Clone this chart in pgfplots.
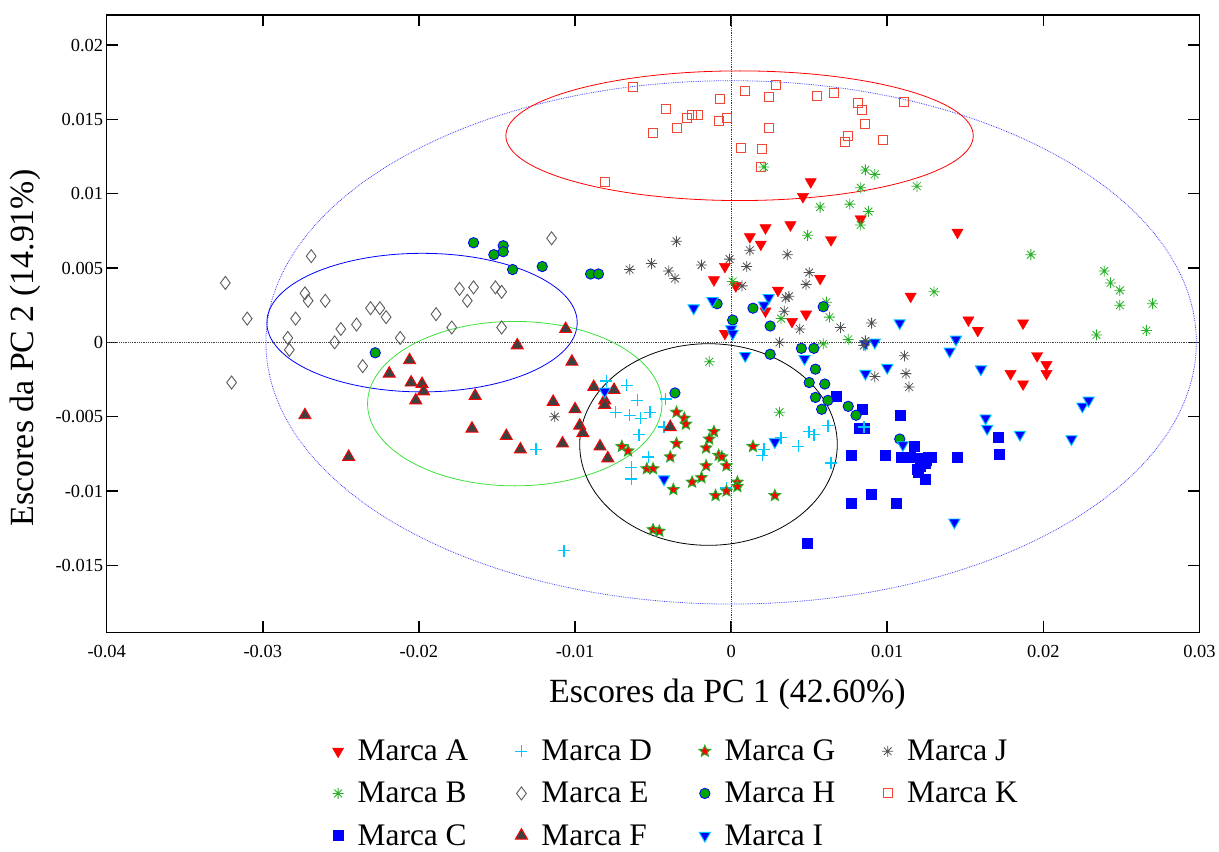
\documentclass[border=0pt]{standalone}
\usepackage{pgfplots}
\pgfplotsset{compat=1.18}
\usepackage{fontspec}
\setmainfont{Liberation Serif}
\definecolor{cA}{RGB}{255,0,0}
\definecolor{cB}{RGB}{40,175,40}
\definecolor{cC}{RGB}{0,0,255}
\definecolor{cD}{RGB}{0,200,255}
\definecolor{cE}{RGB}{90,90,90}
\definecolor{cF}{RGB}{64,64,64}
\definecolor{cG}{RGB}{40,170,40}
\definecolor{cH}{RGB}{0,165,0}
\definecolor{cJ}{RGB}{80,80,80}
\definecolor{cK}{RGB}{240,70,50}
\definecolor{eG}{RGB}{60,225,60}
\pgfdeclareplotmark{fstar}{%
  \pgfpathmoveto{\pgfqpointpolar{90}{\pgfplotmarksize}}%
  \pgfpathlineto{\pgfqpointpolar{126}{0.45\pgfplotmarksize}}%
  \pgfpathlineto{\pgfqpointpolar{162}{\pgfplotmarksize}}%
  \pgfpathlineto{\pgfqpointpolar{198}{0.45\pgfplotmarksize}}%
  \pgfpathlineto{\pgfqpointpolar{234}{\pgfplotmarksize}}%
  \pgfpathlineto{\pgfqpointpolar{270}{0.45\pgfplotmarksize}}%
  \pgfpathlineto{\pgfqpointpolar{306}{\pgfplotmarksize}}%
  \pgfpathlineto{\pgfqpointpolar{342}{0.45\pgfplotmarksize}}%
  \pgfpathlineto{\pgfqpointpolar{18}{\pgfplotmarksize}}%
  \pgfpathlineto{\pgfqpointpolar{54}{0.45\pgfplotmarksize}}%
  \pgfpathclose
  \pgfusepathqfillstroke}
\pgfdeclareplotmark{ast8}{%
  \pgfpathmoveto{\pgfqpointpolar{0}{\pgfplotmarksize}}\pgfpathlineto{\pgfqpointpolar{180}{\pgfplotmarksize}}%
  \pgfpathmoveto{\pgfqpointpolar{45}{\pgfplotmarksize}}\pgfpathlineto{\pgfqpointpolar{225}{\pgfplotmarksize}}%
  \pgfpathmoveto{\pgfqpointpolar{90}{\pgfplotmarksize}}\pgfpathlineto{\pgfqpointpolar{270}{\pgfplotmarksize}}%
  \pgfpathmoveto{\pgfqpointpolar{135}{\pgfplotmarksize}}\pgfpathlineto{\pgfqpointpolar{315}{\pgfplotmarksize}}%
  \pgfusepathqstroke}
\pgfdeclareplotmark{cplus}{%
  \pgfpathmoveto{\pgfqpoint{-\pgfplotmarksize}{0pt}}\pgfpathlineto{\pgfqpoint{\pgfplotmarksize}{0pt}}%
  \pgfpathmoveto{\pgfqpoint{0pt}{-\pgfplotmarksize}}\pgfpathlineto{\pgfqpoint{0pt}{\pgfplotmarksize}}%
  \pgfusepathqstroke}
\begin{document}
\begin{tikzpicture}
\begin{axis}[
  at={(0,0)}, anchor=south west,
  scale only axis, width=1092.8bp, height=617bp,
  xmin=-0.04, xmax=0.03, ymin=-0.0195, ymax=0.022,
  xtick={-0.04,-0.03,-0.02,-0.01,0,0.01,0.02,0.03},
  ytick={-0.015,-0.01,-0.005,0,0.005,0.01,0.015,0.02},
  scaled ticks=false,
  tick label style={font=\fontsize{18.5}{20}\selectfont},
  xticklabel style={yshift=-9bp},
  /pgf/number format/fixed, /pgf/number format/precision=3,
  /pgf/number format/assume math mode=true,
  major tick length=11bp,
  every tick/.style={black, line width=1.5bp},
  axis line style={line width=1.6bp},
  xlabel={Escores da PC 1 (42.60\%)},
  ylabel={Escores da PC 2 (14.91\%)},
  label style={font=\fontsize{34}{40}\selectfont},
  xlabel style={at={(axis description cs:0.568,-0.1)}, anchor=center},
  ylabel style={at={(axis description cs:-0.074,0.461)}, anchor=center},
  legend columns=3, transpose legend,
  legend cell align=left,
  legend style={at={(axis description cs:0.2037,-0.168)}, anchor=north west,
    draw=none, fill=none, font=\fontsize{31.5}{36}\selectfont, row sep=16bp,
    /tikz/every odd column/.append style={column sep=12bp},
    /tikz/every even column/.append style={column sep=45bp}},
  clip=false,
]
\draw[densely dotted, black!75, line width=0.8bp] (axis cs:0,-0.0195) -- (axis cs:0,0.022);
\draw[densely dotted, black!75, line width=0.8bp] (axis cs:-0.04,0) -- (axis cs:0.03,0);

\addplot[cA, only marks, mark=triangle*, mark size=6.5bp, mark options={rotate=180, fill=cA, draw=cA}] coordinates {
(0.0051,0.0108)(0.0046,0.0098)(0.0022,0.0077)(0.0038,0.0079)(0.0012,0.0071)(0.0019,0.0066)(0.0064,0.0069)(0.0083,0.0083)(0.0145,0.0074)(-0.0004,0.0051)(-0.0011,0.0042)(0.0003,0.0038)(-0.0004,0.0006)(0.0057,0.0043)(0.0030,0.0035)(0.0022,0.0021)(0.0039,0.0014)(0.0048,0.0019)(0.0115,0.0031)(0.0152,0.0015)(0.0158,0.0008)(0.0187,0.0013)(0.0196,-0.0009)(0.0202,-0.0015)(0.0202,-0.0021)(0.0179,-0.0021)(0.0187,-0.0028)
};
\addlegendentry{Marca A}
\addplot[cB, only marks, mark=ast8, mark size=5.5bp, mark options={draw=cB, line width=0.8bp}] coordinates {
(0.0021,0.0118)(0.0086,0.0116)(0.0092,0.0113)(0.0083,0.0104)(0.0119,0.0105)(0.0057,0.0091)(0.0076,0.0093)(0.0088,0.0088)(0.0083,0.0079)(0.0049,0.0072)(0.0001,0.0041)(0.0130,0.0034)(0.0061,0.0027)(0.0032,0.0016)(0.0063,0.0017)(0.0059,-0.0001)(0.0075,0.0002)(-0.0014,-0.0013)(0.0031,-0.0047)(0.0192,0.0059)(0.0239,0.0048)(0.0243,0.0040)(0.0249,0.0035)(0.0249,0.0025)(0.0270,0.0026)(0.0234,0.0005)(0.0266,0.0008)
};
\addlegendentry{Marca B}
\addplot[cC, only marks, mark=square*, mark size=5bp, mark options={fill=cC, draw=cC}] coordinates {
(0.0067,-0.0036)(0.0084,-0.0045)(0.0108,-0.0049)(0.0082,-0.0058)(0.0085,-0.0058)(0.0077,-0.0076)(0.0099,-0.0076)(0.0109,-0.0077)(0.0115,-0.0077)(0.0117,-0.0070)(0.0122,-0.0078)(0.0126,-0.0077)(0.0128,-0.0077)(0.0124,-0.0081)(0.0121,-0.0083)(0.0120,-0.0087)(0.0124,-0.0092)(0.0145,-0.0077)(0.0090,-0.0102)(0.0106,-0.0108)(0.0077,-0.0108)(0.0049,-0.0135)(0.0171,-0.0064)(0.0172,-0.0075)(0.0125,-0.0079)(0.0119,-0.0085)
};
\addlegendentry{Marca C}
\addplot[cD, only marks, mark=cplus, mark size=6bp, mark options={draw=cD, line width=1.4bp}] coordinates {
(-0.0080,-0.0026)(-0.0067,-0.0029)(-0.0060,-0.0039)(-0.0042,-0.0038)(-0.0074,-0.0047)(-0.0065,-0.0049)(-0.0058,-0.0051)(-0.0052,-0.0047)(-0.0043,-0.0057)(-0.0059,-0.0062)(-0.0053,-0.0077)(-0.0064,-0.0084)(-0.0064,-0.0092)(-0.0125,-0.0072)(-0.0107,-0.0140)(0.0032,-0.0064)(0.0021,-0.0072)(0.0020,-0.0076)(0.0043,-0.0070)(0.0050,-0.0060)(0.0053,-0.0062)(0.0062,-0.0056)(0.0085,-0.0057)(0.0064,-0.0081)(-0.0003,-0.0098)
};
\addlegendentry{Marca D}
\addplot[cE, only marks, mark=diamond, mark size=6.5bp, mark options={draw=cE, line width=0.9bp}] coordinates {
(-0.0324,0.0040)(-0.0269,0.0058)(-0.0273,0.0033)(-0.0271,0.0028)(-0.0260,0.0028)(-0.0310,0.0016)(-0.0279,0.0016)(-0.0231,0.0023)(-0.0225,0.0023)(-0.0221,0.0017)(-0.0240,0.0012)(-0.0250,0.0009)(-0.0284,0.0003)(-0.0254,0.0000)(-0.0212,0.0003)(-0.0283,-0.0005)(-0.0236,-0.0016)(-0.0320,-0.0027)(-0.0115,0.0070)(-0.0174,0.0036)(-0.0165,0.0037)(-0.0151,0.0037)(-0.0147,0.0034)(-0.0169,0.0028)(-0.0189,0.0019)(-0.0179,0.0010)(-0.0147,0.0010)
};
\addlegendentry{Marca E}
\addplot[cA, only marks, mark=triangle*, mark size=7bp, mark options={fill=cF, draw=cA, line width=0.9bp}] coordinates {
(-0.0273,-0.0049)(-0.0245,-0.0077)(-0.0206,-0.0012)(-0.0219,-0.0021)(-0.0205,-0.0027)(-0.0198,-0.0028)(-0.0197,-0.0033)(-0.0202,-0.0039)(-0.0106,0.0009)(-0.0137,-0.0002)(-0.0102,-0.0013)(-0.0164,-0.0036)(-0.0088,-0.0030)(-0.0075,-0.0032)(-0.0081,-0.0039)(-0.0081,-0.0042)(-0.0114,-0.0040)(-0.0100,-0.0045)(-0.0097,-0.0056)(-0.0095,-0.0061)(-0.0166,-0.0058)(-0.0144,-0.0063)(-0.0135,-0.0072)(-0.0108,-0.0068)(-0.0084,-0.0070)(-0.0079,-0.0078)(-0.0039,-0.0057)
};
\addlegendentry{Marca F}
\addplot[cG, only marks, mark=fstar, mark size=6bp, mark options={fill=cA, draw=cG, line width=1bp}] coordinates {
(-0.0035,-0.0047)(-0.0030,-0.0051)(-0.0029,-0.0055)(-0.0011,-0.0060)(-0.0014,-0.0065)(-0.0035,-0.0068)(-0.0016,-0.0071)(-0.0070,-0.0070)(-0.0066,-0.0073)(-0.0039,-0.0077)(-0.0008,-0.0076)(-0.0006,-0.0077)(-0.0016,-0.0083)(-0.0003,-0.0083)(-0.0054,-0.0085)(-0.0050,-0.0085)(-0.0019,-0.0091)(-0.0025,-0.0094)(-0.0037,-0.0099)(-0.0003,-0.0100)(-0.0010,-0.0103)(0.0004,-0.0094)(0.0004,-0.0097)(-0.0050,-0.0126)(-0.0046,-0.0127)(0.0014,-0.0070)(0.0028,-0.0103)
};
\addlegendentry{Marca G}
\addplot[cC, only marks, mark=*, mark size=5.2bp, mark options={fill=cH, draw=cC, line width=0.8bp}] coordinates {
(-0.0165,0.0067)(-0.0146,0.0065)(-0.0146,0.0061)(-0.0152,0.0059)(-0.0140,0.0049)(-0.0121,0.0051)(-0.0090,0.0046)(-0.0085,0.0046)(-0.0228,-0.0007)(-0.0036,-0.0034)(-0.0009,0.0026)(0.0001,0.0015)(0.0014,0.0023)(0.0025,0.0011)(0.0059,0.0024)(0.0045,-0.0004)(0.0053,-0.0004)(0.0025,-0.0008)(0.0054,-0.0018)(0.0050,-0.0027)(0.0060,-0.0028)(0.0054,-0.0037)(0.0062,-0.0039)(0.0058,-0.0045)(0.0075,-0.0043)(0.0080,-0.0049)(0.0108,-0.0065)
};
\addlegendentry{Marca H}
\addplot[cD, only marks, mark=triangle*, mark size=6.5bp, mark options={rotate=180, fill=cC, draw=cD, line width=0.9bp}] coordinates {
(-0.0081,-0.0033)(-0.0024,0.0023)(-0.0012,0.0028)(0.0000,0.0009)(0.0001,0.0006)(-0.0043,-0.0092)(0.0024,0.0030)(0.0021,0.0025)(0.0009,-0.0009)(0.0047,-0.0011)(0.0086,-0.0021)(0.0086,-0.0001)(0.0092,0.0000)(0.0100,-0.0017)(0.0108,0.0013)(0.0140,-0.0006)(0.0144,0.0002)(0.0028,-0.0067)(0.0110,-0.0069)(0.0143,-0.0121)(0.0160,-0.0018)(0.0163,-0.0051)(0.0164,-0.0058)(0.0185,-0.0062)(0.0218,-0.0065)(0.0225,-0.0043)(0.0229,-0.0039)
};
\addlegendentry{Marca I}
\addplot[cJ, only marks, mark=ast8, mark size=5.5bp, mark options={draw=cJ, line width=0.8bp}] coordinates {
(-0.0035,0.0068)(-0.0065,0.0049)(-0.0051,0.0053)(-0.0040,0.0048)(-0.0036,0.0043)(-0.0019,0.0052)(-0.0001,0.0056)(-0.0113,-0.0050)(0.0012,0.0062)(0.0010,0.0051)(0.0007,0.0038)(0.0036,0.0059)(0.0050,0.0047)(0.0048,0.0039)(0.0037,0.0031)(0.0035,0.0030)(0.0034,0.0021)(0.0044,0.0009)(0.0031,0.0000)(0.0070,0.0010)(0.0090,0.0013)(0.0086,0.0001)(0.0085,-0.0002)(0.0111,-0.0009)(0.0112,-0.0021)(0.0092,-0.0023)(0.0114,-0.0030)
};
\addlegendentry{Marca J}
\addplot[cK, only marks, mark=square, mark size=4.5bp, mark options={draw=cK, line width=0.9bp}] coordinates {
(-0.0063,0.0172)(-0.0007,0.0164)(0.0009,0.0169)(0.0029,0.0173)(0.0024,0.0165)(0.0055,0.0166)(0.0066,0.0168)(0.0111,0.0162)(0.0081,0.0161)(0.0084,0.0156)(0.0086,0.0147)(0.0075,0.0139)(0.0073,0.0135)(0.0097,0.0136)(-0.0042,0.0157)(-0.0028,0.0151)(-0.0025,0.0153)(-0.0021,0.0153)(-0.0035,0.0144)(-0.0050,0.0141)(-0.0008,0.0149)(-0.0003,0.0151)(0.0024,0.0144)(0.0006,0.0131)(0.0020,0.0130)(0.0019,0.0118)(-0.0081,0.0108)
};
\addlegendentry{Marca K}

\draw[blue!75, densely dotted, line width=0.8bp] (axis cs:0,0) ellipse [x radius=0.0298, y radius=0.0176];
\draw[red, line width=0.8bp] (axis cs:0.00054,0.0139) ellipse [x radius=0.01497, y radius=0.00436];
\draw[blue, line width=0.8bp] (axis cs:-0.0198,0.00133) ellipse [x radius=0.00994, y radius=0.00466];
\draw[eG, line width=0.8bp] (axis cs:-0.01386,-0.00412) ellipse [x radius=0.00943, y radius=0.00553];
\draw[black, line width=0.8bp] (axis cs:-0.00145,-0.00687) ellipse [x radius=0.00825, y radius=0.00678];
\end{axis}
\pgfresetboundingbox
\useasboundingbox (-106.7bp,-219.7bp) rectangle (1112.3bp,632.3bp);
\end{tikzpicture}
\end{document}
